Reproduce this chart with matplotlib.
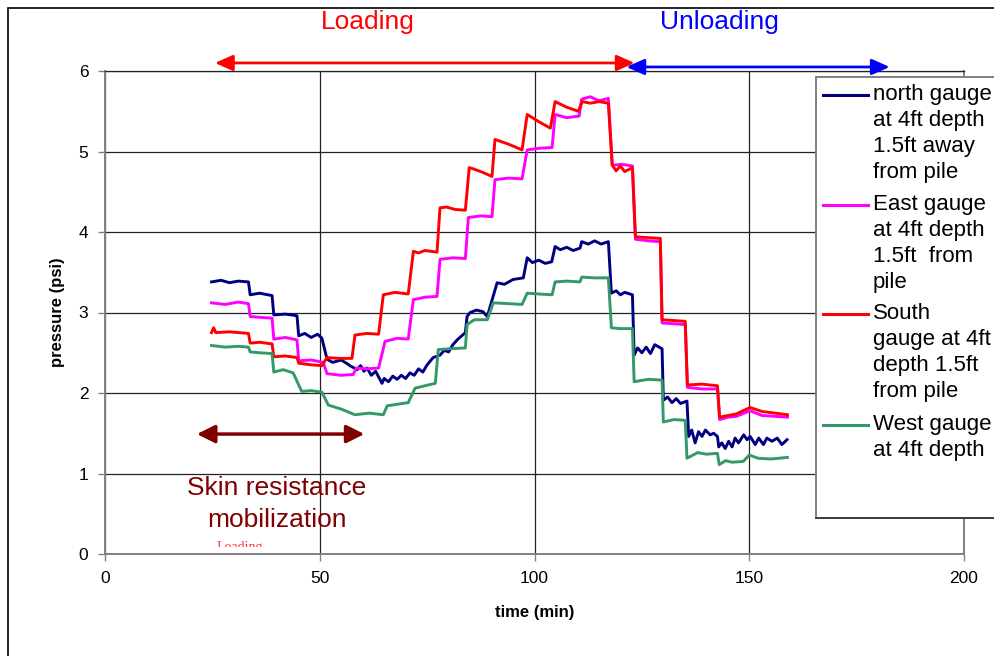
import matplotlib
matplotlib.use("Agg")
import matplotlib.pyplot as plt
from matplotlib.patches import Rectangle
from matplotlib.lines import Line2D
from matplotlib.transforms import Bbox, TransformedBbox

plt.rcParams['font.family'] = ['Liberation Sans', 'DejaVu Sans']

# ---- data (time in min, pressure in psi) ----
north_t = [24.8, 27, 29, 31, 33.4, 33.8, 36, 38.9, 39.3, 42, 44.7, 45.1, 46.5, 48, 49.5, 50.5,
           51.7, 53, 55, 56.5, 57, 58.7, 59.5, 60.3, 61, 62, 63, 64.5, 65, 66, 67, 68, 69, 70,
           71, 72, 73, 74, 75, 76.4, 78, 79, 80, 81, 82, 83.9, 84.3, 85, 86.5, 88, 89, 91.3,
           93, 95, 97.4, 98.3, 99.5, 101, 102.5, 104, 104.8, 106, 107.5, 109, 110.6, 111, 112.5,
           114, 115.5, 117.2, 117.9, 119, 120, 121, 122.8, 123.2, 124, 125, 126, 127, 128,
           129.7, 130, 131, 132, 133, 134, 135.5, 135.9, 136.6, 137.4, 138.2, 139.0, 139.8,
           140.9, 141.7, 142.6, 142.9, 143.6, 144.4, 145.2, 146.0, 146.7, 147.5, 148.7, 149.5,
           150.2, 151.4, 152.2, 153.3, 154.1, 155.3, 156.5, 157.6, 158.8]
north_p = [3.38, 3.40, 3.37, 3.39, 3.38, 3.22, 3.24, 3.21, 2.97, 2.98, 2.96, 2.71, 2.74, 2.69, 2.73, 2.68,
           2.42, 2.38, 2.41, 2.36, 2.34, 2.29, 2.34, 2.27, 2.31, 2.22, 2.27, 2.12, 2.18, 2.14, 2.21, 2.17, 2.22, 2.18,
           2.25, 2.22, 2.30, 2.26, 2.35, 2.44, 2.47, 2.53, 2.51, 2.60, 2.66, 2.75, 2.95, 3.00, 3.03, 3.01, 2.95, 3.37,
           3.35, 3.41, 3.43, 3.68, 3.62, 3.65, 3.61, 3.63, 3.82, 3.78, 3.81, 3.77, 3.80, 3.88, 3.85,
           3.89, 3.85, 3.88, 3.24, 3.27, 3.22, 3.25, 3.22, 2.47, 2.56, 2.50, 2.57, 2.49, 2.60,
           2.55, 1.91, 1.95, 1.88, 1.93, 1.87, 1.90, 1.46, 1.54, 1.38, 1.52, 1.46, 1.54,
           1.48, 1.50, 1.46, 1.33, 1.38, 1.31, 1.40, 1.33, 1.44, 1.38, 1.48, 1.42,
           1.46, 1.36, 1.44, 1.36, 1.44, 1.40, 1.44, 1.36, 1.42]

east_t = [24.8, 28, 31, 33.4, 33.8, 36, 38.9, 39.3, 42, 44.7, 45.1, 48, 50.8, 51.7, 55, 57.8, 58.5,
          61, 63.7, 65.2, 68, 70.6, 71.8, 74.5, 77.3, 78, 81, 83.9, 84.6, 87.5, 90.1, 90.8, 94,
          97.1, 98.3, 101, 104.1, 104.8, 107.5, 110.4, 111, 113, 115, 117.2, 118.1, 120.5,
          122.8, 123.5, 126.5, 129.3, 129.7, 132.5, 135.1, 135.6, 139, 142.6, 143.1, 145, 147,
          150.2, 153, 156, 158.9]
east_p = [3.12, 3.10, 3.13, 3.11, 2.95, 2.94, 2.93, 2.67, 2.69, 2.66, 2.40, 2.41, 2.38, 2.24, 2.22, 2.23, 2.31,
          2.30, 2.31, 2.64, 2.68, 2.67, 3.16, 3.19, 3.20, 3.66, 3.68, 3.67, 4.18, 4.20, 4.19, 4.65, 4.67,
          4.66, 5.02, 5.04, 5.05, 5.46, 5.42, 5.44, 5.65, 5.68, 5.63, 5.66, 4.83, 4.84,
          4.82, 3.91, 3.89, 3.88, 2.87, 2.86, 2.85, 2.07, 2.05, 2.05, 1.67, 1.70, 1.71,
          1.78, 1.72, 1.71, 1.70]

south_t = [24.8, 25.3, 25.8, 29, 33.4, 33.8, 36, 38.9, 39.3, 42, 44.7, 45.1, 48, 50.5, 51.7, 54.5,
           57.5, 58.2, 61, 63.7, 64.8, 67.5, 70.6, 71.8, 73, 74.5, 77.3, 78, 79.5, 81.5, 83.9,
           84.8, 86, 88, 90.1, 90.8, 94, 97.1, 98.3, 101, 103.7, 104.8, 107.5, 110.2, 111.1,
           113, 115, 117.2, 118.1, 119, 120, 121, 122.8, 123.5, 126.5, 129.3, 129.7, 132.5,
           135.1, 135.6, 139, 142.6, 143.1, 147, 150.2, 153, 156, 158.9]
south_p = [2.75, 2.81, 2.75, 2.76, 2.74, 2.62, 2.63, 2.61, 2.45, 2.46, 2.44, 2.37, 2.35, 2.34, 2.44, 2.43,
           2.43, 2.72, 2.74, 2.73, 3.22, 3.25, 3.23, 3.76, 3.74, 3.77, 3.75, 4.30, 4.31, 4.28, 4.27,
           4.80, 4.78, 4.74, 4.69, 5.15, 5.09, 5.02, 5.46, 5.37, 5.29, 5.62, 5.55, 5.50, 5.62,
           5.60, 5.62, 5.60, 4.83, 4.76, 4.82, 4.75, 4.80, 3.94, 3.93, 3.92, 2.91, 2.90,
           2.89, 2.10, 2.11, 2.09, 1.70, 1.74, 1.82, 1.77, 1.75, 1.73]

west_t = [24.8, 28, 31, 33.4, 33.8, 36, 38.9, 39.3, 41.5, 43.8, 45.8, 48, 50.5, 52, 55, 58.2, 61.5,
          64.8, 65.7, 68, 70.6, 72.2, 74.5, 76.9, 77.6, 80.5, 83.9, 84.3, 86, 89, 90.4, 94, 97.1,
          98.3, 101, 104.1, 104.8, 107.5, 110.6, 111, 114, 117.2, 117.9, 120, 122.8, 123.2,
          126.5, 129.7, 130, 132.5, 135.1, 135.5, 138, 140, 142.6, 143, 144.5, 146, 148.6,
          150, 152, 155, 158.9]
west_p = [2.59, 2.57, 2.58, 2.57, 2.51, 2.50, 2.49, 2.26, 2.29, 2.25, 2.02, 2.03, 2.01, 1.85, 1.80, 1.73, 1.75,
          1.73, 1.84, 1.86, 1.88, 2.06, 2.09, 2.12, 2.54, 2.55, 2.56, 2.85, 2.91, 2.91, 3.12, 3.11, 3.10,
          3.24, 3.23, 3.22, 3.38, 3.39, 3.38, 3.44, 3.43, 3.43, 2.81, 2.80, 2.80, 2.14,
          2.17, 2.16, 1.64, 1.67, 1.66, 1.19, 1.26, 1.24, 1.25, 1.11, 1.16, 1.14, 1.15,
          1.23, 1.19, 1.18, 1.20]

series = [
    (north_t, north_p, "#000080", ["north gauge", "at 4ft depth", "1.5ft away", "from pile"]),
    (east_t, east_p, "#FF00FF", ["East gauge", "at 4ft depth", "1.5ft  from", "pile"]),
    (south_t, south_p, "#FF0000", ["South", "gauge at 4ft", "depth 1.5ft", "from pile"]),
    (west_t, west_p, "#339966", ["West gauge", "at 4ft depth"]),
]

W, H = 995, 656


def fx(px):
    return px / W


def fy(py):
    return 1 - py / H


def main():
    fig = plt.figure(figsize=(W / 100, H / 100), dpi=100)
    ax = fig.add_axes([fx(105), fy(554), (964 - 105) / W, (554 - 71) / H])

    for t, p, c, lab in series:
        ax.plot(t, p, color=c, lw=2.1)

    ax.set_xlim(0, 200)
    ax.set_ylim(0, 6)
    ax.set_xticks([0, 50, 100, 150, 200])
    ax.set_yticks([0, 1, 2, 3, 4, 5, 6])
    ax.set_axisbelow(True)
    ax.grid(True, color="#222222", lw=0.9)
    ax.tick_params(direction="out", length=5, width=1, color="#808080",
                   labelsize=12.5, pad=7)
    for s in ["left", "bottom", "right"]:
        ax.spines[s].set_color("#808080")
        ax.spines[s].set_linewidth(1.4)
    ax.spines["top"].set_color("#222222")
    ax.spines["top"].set_linewidth(0.9)

    ax.set_xlabel("time (min)", fontsize=12, fontweight="bold")
    ax.set_ylabel("pressure (psi)", fontsize=12, fontweight="bold")
    ax.xaxis.set_label_coords(0.5006, -0.106)
    ax.yaxis.set_label_coords(-0.047, 0.5)

    # arrows
    style = "<|-|>,head_length=0.9,head_width=0.4"
    ax.annotate("", xy=(25.6, 6.10), xytext=(123.3, 6.10), annotation_clip=False,
                arrowprops=dict(arrowstyle=style, color="#FF0000", lw=2,
                                mutation_scale=12, shrinkA=0, shrinkB=0))
    ax.annotate("", xy=(121.4, 6.05), xytext=(182.7, 6.05), annotation_clip=False,
                arrowprops=dict(arrowstyle=style, color="#0000FF", lw=2,
                                mutation_scale=12, shrinkA=0, shrinkB=0))
    ax.annotate("", xy=(21.4, 1.49), xytext=(60.4, 1.49), annotation_clip=False,
                arrowprops=dict(arrowstyle="<|-|>,head_length=0.9,head_width=0.45",
                                color="#800000", lw=2.5, mutation_scale=12,
                                shrinkA=0, shrinkB=0))

    fig.text(fx(368), fy(22.5), "Loading", color="#FF0000", fontsize=19,
             ha="center", va="center")
    fig.text(fx(719), fy(22.5), "Unloading", color="#0000FF", fontsize=19,
             ha="center", va="center")
    fig.text(fx(277), fy(488), "Skin resistance", color="#800000", fontsize=19,
             ha="center", va="center")
    fig.text(fx(277), fy(520), "mobilization", color="#800000", fontsize=19,
             ha="center", va="center")

    tiny = fig.text(fx(240), fy(541), "Loading", color="#FF3333", fontsize=10,
                    family="Liberation Serif", ha="center", va="top")
    tiny.set_clip_box(TransformedBbox(Bbox([[0, fy(546.5)], [1, 1]]), fig.transFigure))
    tiny.set_clip_on(True)

    # legend box (partly off the right edge, like the original)
    fig.add_artist(Rectangle((fx(816), fy(518)), 0.5, (518 - 77) / H,
                             transform=fig.transFigure, facecolor="white",
                             edgecolor="#808080", lw=1.4, zorder=5))
    fig.add_artist(Line2D([fx(816), 1], [fy(518), fy(518)], transform=fig.transFigure,
                          color="#333333", lw=1.2, zorder=6))
    base = [100, 210, 319, 430]
    for (t, p, c, lab), b in zip(series, base):
        fig.add_artist(Line2D([fx(823), fx(868)], [fy(b - 5.5), fy(b - 5.5)],
                              transform=fig.transFigure, color=c, lw=2.2, zorder=6))
        for i, line in enumerate(lab):
            fig.text(fx(873), fy(b + 26 * i), line, fontsize=16, ha="left",
                     va="baseline", zorder=7)

    # outer chart border
    fig.add_artist(Rectangle((fx(8), -0.1), 2, fy(8) + 0.1, transform=fig.transFigure,
                             facecolor="none", edgecolor="black", lw=1.2, zorder=8))

    fig.savefig("out.png", dpi=100)


if __name__ == "__main__":
    main()
